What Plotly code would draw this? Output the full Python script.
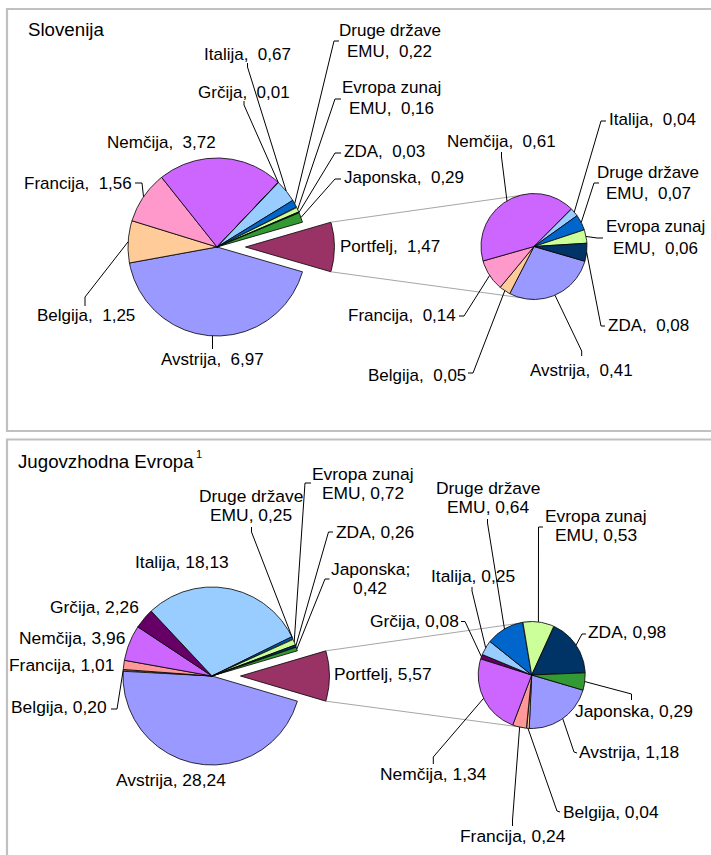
import numpy as np
import plotly.graph_objects as go

# ---------------- data ----------------
main_cats = ["Avstrija", "Belgija", "Francija", "Nemčija", "Grčija", "Italija",
             "Druge države EMU", "Evropa zunaj EMU", "ZDA", "Japonska", "Portfelj"]

si_main_vals = [6.97, 1.25, 1.56, 3.72, 0.01, 0.67, 0.22, 0.16, 0.03, 0.29, 1.47]
si_port_cats = ["Avstrija", "Belgija", "Francija", "Nemčija", "Italija",
                "Druge države EMU", "Evropa zunaj EMU", "ZDA"]
si_port_vals = [0.41, 0.05, 0.14, 0.61, 0.04, 0.07, 0.06, 0.08]

see_main_vals = [28.24, 0.20, 1.01, 3.96, 2.26, 18.13, 0.25, 0.72, 0.26, 0.42, 5.57]
see_port_cats = ["Avstrija", "Belgija", "Francija", "Nemčija", "Grčija", "Italija",
                 "Druge države EMU", "Evropa zunaj EMU", "ZDA", "Japonska"]
see_port_vals = [1.18, 0.04, 0.24, 1.34, 0.08, 0.25, 0.64, 0.53, 0.98, 0.29]

panel_titles = ["Slovenija", "Jugovzhodna Evropa"]

# ---------------- styling ----------------
base_colors = {
    "Avstrija": "#9999FF", "Belgija": "#FFCC99", "Francija": "#FF99CC",
    "Nemčija": "#CC66FF", "Grčija": "#660066", "Italija": "#99CCFF",
    "Druge države EMU": "#0066CC", "Evropa zunaj EMU": "#CCFF99",
    "ZDA": "#003366", "Japonska": "#339933", "Portfelj": "#993366",
}
see_colors = dict(base_colors, Francija="#FF9999")

FONT = "Liberation Sans, Arial, sans-serif"
W, H = 711, 855

fig = go.Figure()
annotations = []


def fmt(v):
    return f"{v:.2f}".replace(".", ",")


def spans(vals, start):
    tot = float(sum(vals))
    out, a = [], start
    for v in vals:
        s = v / tot * 360.0
        out.append((a, a + s))
        a += s
    return out


def wedge(cx, cy, r, a0, a1, off=0.0):
    mid = np.radians((a0 + a1) / 2)
    ox, oy = cx + off * np.cos(mid), cy + off * np.sin(mid)
    t = np.radians(np.linspace(a0, a1, max(3, int(abs(a1 - a0) * 2) + 2)))
    xs = [ox] + list(ox + r * np.cos(t)) + [ox]
    ys = [oy] + list(oy + r * np.sin(t)) + [oy]
    return xs, ys


def arc_point(cx, cy, r, a0, a1):
    m = np.radians((a0 + a1) / 2)
    return cx + r * np.cos(m), cy + r * np.sin(m)


def add_wedges(cats, vals, angs, cx, cy, r, colors, pulled=None, pull=0.0):
    for c, v, (a0, a1) in zip(cats, vals, angs):
        off = pull if c == pulled else 0.0
        xs, ys = wedge(cx, cy, r, a0, a1, off)
        fig.add_trace(go.Scatter(
            x=xs, y=ys, mode="lines", fill="toself", fillcolor=colors[c],
            line=dict(color="black", width=0.8), hoverinfo="text",
            text=f"{c}: {fmt(v)}", showlegend=False))


def add_text(x, y, text, anchor="center", size=17):
    annotations.append(dict(
        x=x, y=y, xref="x", yref="y", text=text, showarrow=False,
        xanchor=anchor, yanchor="middle", borderpad=0,
        font=dict(family=FONT, size=size, color="black")))


def add_labels(cats, vals, angs, cx, cy, r, specs, sep, size, spacing):
    for c, v, (a0, a1) in zip(cats, vals, angs):
        if c not in specs:
            continue
        sp = specs[c]
        s = sp.get("sep", sep)
        full = f"{c}{s}{fmt(v)}"
        words = full.split(" ")
        if "brk" in sp:
            k = sp["brk"]
            lines = [" ".join(words[:k]), " ".join(words[k:])]
        else:
            lines = [full]
        for i, ln in enumerate(lines):
            add_text(sp["x"], sp["y"] + i * spacing, ln, sp["anchor"], size)
        if sp.get("lead"):
            px, py = arc_point(cx, cy, r, a0, a1)
            pts = list(sp["lead"]) + [(px, py)]
            fig.add_trace(go.Scatter(
                x=[p[0] for p in pts], y=[p[1] for p in pts], mode="lines",
                line=dict(color="black", width=1), hoverinfo="skip",
                showlegend=False))


def pie_of_pie(main_vals, port_cats, port_vals, colors, geo, main_specs,
               port_specs, sep, size, spacing):
    cx, cy, r = geo["main"]
    px, py, pr = geo["port"]
    half = main_vals[-1] / sum(main_vals) * 180.0
    m_angs = spans(main_vals, half)
    p_angs = spans(port_vals, half)
    pull = 0.32 * r
    add_wedges(main_cats, main_vals, m_angs, cx, cy, r, colors,
               pulled="Portfelj", pull=pull)
    # connector lines from the exploded "Portfelj" slice to the second pie
    ox = cx + pull
    top = (ox + r * np.cos(np.radians(-half)), cy + r * np.sin(np.radians(-half)))
    bot = (ox + r * np.cos(np.radians(half)), cy + r * np.sin(np.radians(half)))
    for (x0, y0), (x1, y1) in [(top, (px, py - pr)), (bot, (px, py + pr))]:
        fig.add_trace(go.Scatter(x=[x0, x1], y=[y0, y1], mode="lines",
                                 line=dict(color="#A6A6A6", width=1),
                                 hoverinfo="skip", showlegend=False))
    add_wedges(port_cats, port_vals, p_angs, px, py, pr, colors)
    add_labels(main_cats, main_vals, m_angs, cx, cy, r, main_specs, sep, size, spacing)
    add_labels(port_cats, port_vals, p_angs, px, py, pr, port_specs, sep, size, spacing)


# ---------------- label placement ----------------
si_main_specs = {
    "Italija": dict(x=247.5, y=54, anchor="center", lead=[(247.5, 63), (247.5, 67)]),
    "Grčija": dict(x=243.5, y=92.3, anchor="center", lead=[(244, 101), (244, 105)]),
    "Nemčija": dict(x=161, y=142.3, anchor="center"),
    "Francija": dict(x=133, y=183, anchor="right", lead=[(135, 183), (142, 183)]),
    "Belgija": dict(x=86, y=315.7, anchor="center", lead=[(85, 306), (85, 297)]),
    "Avstrija": dict(x=212.5, y=359.7, anchor="center", lead=[(212.5, 349), (212.5, 344)]),
    "Druge države EMU": dict(x=389.5, y=30, anchor="center", brk=2, lead=[(339, 41), (334, 41)]),
    "Evropa zunaj EMU": dict(x=391.5, y=87, anchor="center", brk=2, lead=[(341, 99), (335, 99)]),
    "ZDA": dict(x=343, y=151.7, anchor="left", lead=[(341, 153), (335, 153)]),
    "Japonska": dict(x=343, y=177.3, anchor="left", lead=[(341, 179), (335, 179)]),
    "Portfelj": dict(x=339.3, y=246.3, anchor="left"),
}
si_port_specs = {
    "Nemčija": dict(x=501, y=141.7, anchor="center", lead=[(501.5, 152), (501.5, 157)]),
    "Italija": dict(x=608, y=119, anchor="left", lead=[(606, 121), (601, 121)]),
    "Druge države EMU": dict(x=648, y=172, anchor="center", brk=2, lead=[(599, 183), (594, 183)]),
    "Evropa zunaj EMU": dict(x=655, y=226.7, anchor="center", brk=2, lead=[(603, 238), (597, 238)]),
    "ZDA": dict(x=606.7, y=325.7, anchor="left", lead=[(605, 326), (601, 326)]),
    "Avstrija": dict(x=581, y=370, anchor="center", lead=[(581.7, 356), (581.7, 351)]),
    "Belgija": dict(x=466.7, y=375, anchor="right", lead=[(468, 373), (473, 373)]),
    "Francija": dict(x=456.7, y=315.7, anchor="right", lead=[(459, 316), (464, 316)]),
}
see_main_specs = {
    "Druge države EMU": dict(x=251, y=496, anchor="center", brk=2, lead=[(251.5, 527), (251.5, 532)]),
    "Evropa zunaj EMU": dict(x=363, y=474, anchor="center", brk=2, lead=[(311, 483), (305, 483)]),
    "ZDA": dict(x=335, y=532, anchor="left", lead=[(333, 532), (328.5, 532)]),
    "Japonska": dict(x=370, y=569, anchor="center", brk=1, sep="; ", lead=[(329.5, 579), (325, 579)]),
    "Italija": dict(x=182, y=562, anchor="center"),
    "Grčija": dict(x=94, y=607, anchor="center"),
    "Nemčija": dict(x=71.7, y=638, anchor="center"),
    "Francija": dict(x=61, y=665, anchor="center"),
    "Belgija": dict(x=108.3, y=707, anchor="right", lead=[(111, 709), (117, 709)]),
    "Avstrija": dict(x=170.7, y=780, anchor="center"),
    "Portfelj": dict(x=333.3, y=674, anchor="left"),
}
see_port_specs = {
    "Druge države EMU": dict(x=488, y=488, anchor="center", brk=2, lead=[(487.5, 519), (487.5, 523)]),
    "Evropa zunaj EMU": dict(x=595.5, y=515.5, anchor="center", brk=2, lead=[(543, 527), (538.5, 527)]),
    "Italija": dict(x=472.5, y=576, anchor="center", lead=[(472, 587), (472, 591)]),
    "Grčija": dict(x=460, y=621, anchor="right", lead=[(461, 621.5), (465, 621.5)]),
    "ZDA": dict(x=587.3, y=632, anchor="left", lead=[(586, 634), (582, 634)]),
    "Japonska": dict(x=574, y=711, anchor="left", lead=[(631.5, 700), (631.5, 694)]),
    "Avstrija": dict(x=578.3, y=752, anchor="left", lead=[(577, 753), (574, 752)]),
    "Nemčija": dict(x=433.3, y=774, anchor="center", lead=[(433.3, 764), (433.3, 757)]),
    "Francija": dict(x=512.5, y=835.5, anchor="center", lead=[(512.5, 826), (512.5, 820)]),
    "Belgija": dict(x=561.7, y=812, anchor="left", lead=[(560, 812), (557, 811)]),
}

# ---------------- panels ----------------
pie_of_pie(si_main_vals, si_port_cats, si_port_vals, base_colors,
           dict(main=(217, 247, 89), port=(534, 246.5, 53)),
           si_main_specs, si_port_specs, ",\u00a0 ", 17, 21.5)
pie_of_pie(see_main_vals, see_port_cats, see_port_vals, see_colors,
           dict(main=(212, 676, 89), port=(531.7, 675, 53.5)),
           see_main_specs, see_port_specs, ", ", 17.4, 19)

add_text(27.3, 29.3, panel_titles[0], "left", 18.7)
add_text(17.3, 461.6, panel_titles[1], "left", 18.7)
add_text(195, 454, "1", "left", 11)

shapes = [
    dict(type="rect", xref="x", yref="y", x0=7, y0=9, x1=W + 10, y1=431,
         line=dict(color="#C0C0C0", width=2.2), layer="below"),
    dict(type="rect", xref="x", yref="y", x0=7, y0=439.5, x1=W + 10, y1=H + 10,
         line=dict(color="#C0C0C0", width=2.2), layer="below"),
]

fig.update_layout(
    width=W, height=H, margin=dict(l=0, r=0, t=0, b=0),
    paper_bgcolor="white", plot_bgcolor="white", showlegend=False,
    xaxis=dict(range=[0, W], visible=False, fixedrange=True),
    yaxis=dict(range=[H, 0], visible=False, fixedrange=True),
    annotations=annotations, shapes=shapes,
    font=dict(family=FONT, color="black"),
)

fig.write_html("out.html", config={"displayModeBar": False})
